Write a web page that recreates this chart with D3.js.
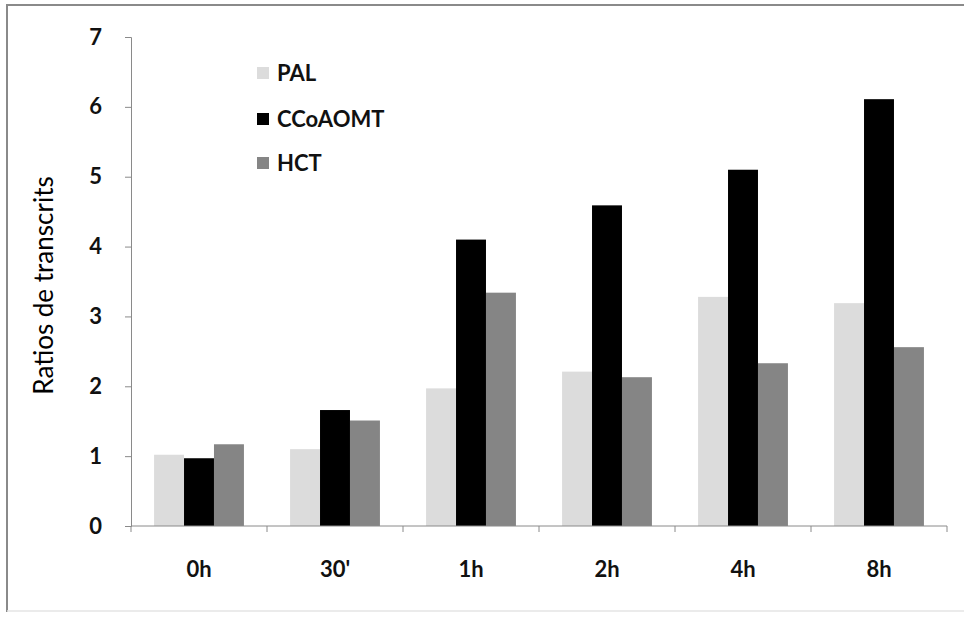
<!DOCTYPE html>
<html>
<head>
<meta charset="utf-8">
<script src="https://cdn.jsdelivr.net/npm/d3@7"></script>
<style>
  html, body { margin: 0; padding: 0; background: #fff; }
  svg { display: block; }
  text { font-family: Lato, "Open Sans", sans-serif; }
</style>
</head>
<body>
<div id="chart"></div>
<script>
// Time points after treatment
const categories = ["0h", "30'", "1h", "2h", "4h", "8h"];
// Gene names
const seriesNames = ["PAL", "CCoAOMT", "HCT"];
// Relative transcript ratios per gene
const palValues     = [1.02, 1.10, 1.97, 2.21, 3.28, 3.19];
const ccoaomtValues = [0.97, 1.66, 4.10, 4.59, 5.10, 6.11];
const hctValues     = [1.17, 1.51, 3.34, 2.13, 2.33, 2.56];
const yTicks = [0, 1, 2, 3, 4, 5, 6, 7];
const colors = ["#dcdcdc", "#000000", "#858585"];

const width = 964, height = 617;
const margin = { left: 131, right: 17, top: 37, bottom: 91 };

const svg = d3.select("#chart").append("svg")
  .attr("width", width).attr("height", height);

// frame: top and left edges, faint bottom edge
svg.append("line")
  .attr("x1", 6).attr("x2", width).attr("y1", 5).attr("y2", 5)
  .attr("stroke", "#8a8a8a").attr("stroke-width", 2);
svg.append("line")
  .attr("x1", 7).attr("x2", 7).attr("y1", 4).attr("y2", 612)
  .attr("stroke", "#8a8a8a").attr("stroke-width", 2);
svg.append("line")
  .attr("x1", 7).attr("x2", width).attr("y1", 611).attr("y2", 611)
  .attr("stroke", "#e4e4e4").attr("stroke-width", 1.5);

const x0 = d3.scaleBand()
  .domain(categories)
  .range([margin.left, width - margin.right])
  .paddingInner(0).paddingOuter(0);

const x1 = d3.scaleBand()
  .domain(seriesNames)
  .range([0, x0.bandwidth()])
  .paddingInner(0).paddingOuter(0.77);

const y = d3.scaleLinear()
  .domain([0, 7])
  .range([height - margin.bottom, margin.top]);

const series = [palValues, ccoaomtValues, hctValues];

const groups = svg.append("g").selectAll("g")
  .data(categories)
  .join("g")
  .attr("transform", d => `translate(${x0(d)},0)`);

groups.selectAll("rect")
  .data((c, i) => seriesNames.map((s, k) => ({ s, k, v: series[k][i] })))
  .join("rect")
  .attr("x", d => x1(d.s))
  .attr("width", x1.bandwidth())
  .attr("y", d => y(d.v))
  .attr("height", d => y(0) - y(d.v))
  .attr("fill", d => colors[d.k]);

// y axis
const yAxis = svg.append("g")
  .attr("transform", `translate(${margin.left},0)`)
  .call(d3.axisLeft(y).tickValues(yTicks).tickFormat(d3.format("d")).tickSizeOuter(0).tickSize(6).tickPadding(23));
yAxis.select(".domain").attr("stroke", "#8a8a8a");
yAxis.selectAll(".tick line").attr("stroke", "#8a8a8a");
yAxis.selectAll(".tick text")
  .attr("font-size", 22).attr("font-weight", "bold").attr("fill", "#111");

// x axis with ticks between categories
const xAxisG = svg.append("g")
  .attr("transform", `translate(0,${y(0)})`);
xAxisG.append("line")
  .attr("x1", x0.range()[0]).attr("x2", x0.range()[1])
  .attr("stroke", "#8a8a8a");
const boundaries = categories.map(c => x0(c)).concat([x0.range()[1]]);
xAxisG.selectAll("line.tk")
  .data(boundaries)
  .join("line").attr("class", "tk")
  .attr("x1", d => d).attr("x2", d => d)
  .attr("y1", 0).attr("y2", 6)
  .attr("stroke", "#8a8a8a");
xAxisG.selectAll("text")
  .data(categories)
  .join("text")
  .attr("x", d => x0(d) + x0.bandwidth() / 2)
  .attr("y", 51)
  .attr("text-anchor", "middle")
  .attr("font-size", 22).attr("font-weight", "bold").attr("fill", "#111")
  .text(d => d);

// y axis title
svg.append("text")
  .attr("transform", `translate(53,${(margin.top + y(0)) / 2 + 4}) rotate(-90)`)
  .attr("text-anchor", "middle")
  .attr("font-size", 26).attr("fill", "#000")
  .text("Ratios de transcrits");

// legend
const legend = svg.append("g").attr("transform", "translate(257,0)");
const legendY = [73, 119, 163];
seriesNames.forEach((s, k) => {
  legend.append("rect")
    .attr("x", 0).attr("y", legendY[k] - 6)
    .attr("width", 12).attr("height", 12)
    .attr("fill", colors[k]);
  legend.append("text")
    .attr("x", 20).attr("y", legendY[k] + 8)
    .attr("font-size", 22).attr("font-weight", "bold").attr("fill", "#111")
    .text(s);
});
</script>
</body>
</html>
